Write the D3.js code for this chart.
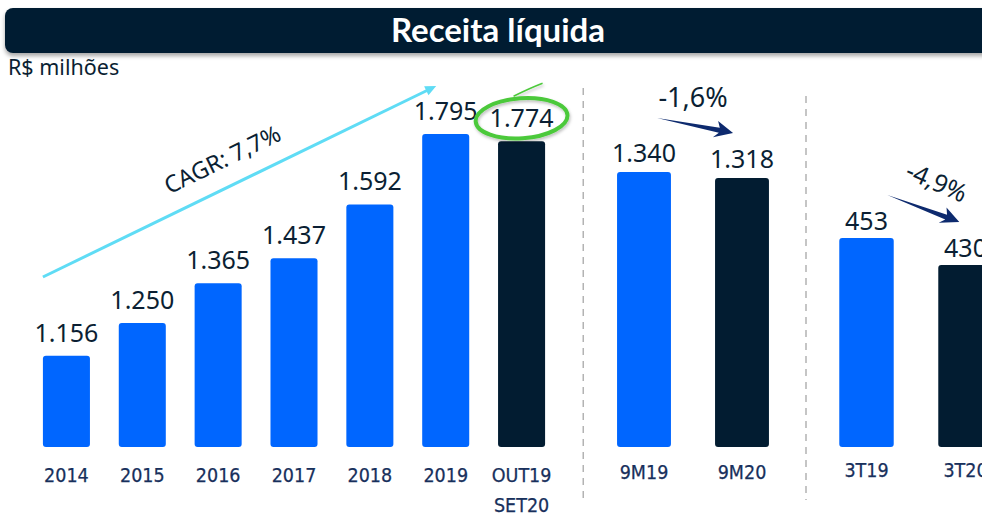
<!DOCTYPE html>
<html>
<head>
<meta charset="utf-8">
<script src="https://cdn.jsdelivr.net/npm/d3@7"></script>
<style>
  body { margin: 0; background: #fff; }
  svg { display: block; }
  .val { font-family: 'Noto Sans', 'Open Sans', sans-serif; font-size: 25px; fill: #0b1f33; }
  .cat { font-family: 'DejaVu Sans Condensed', 'DejaVu Sans', sans-serif; font-stretch: condensed; font-size: 19.5px; fill: #18305c; stroke: #18305c; stroke-width: 0.25px; }
  .note { font-family: 'Noto Sans', sans-serif; fill: #0b1f33; }
</style>
</head>
<body>
<div id="chart"></div>
<script>
// Receita líquida - R$ milhões

// Annual series (last bar is the 12 months OUT19-SET20)
let anualCats = ['2014', '2015', '2016', '2017', '2018', '2019', 'OUT19']
let anualValues = [1156, 1250, 1365, 1437, 1592, 1795, 1774]
let anualSubLabels = { 'OUT19': 'SET20' }

// Nine months
let noveMesesCats = ['9M19', '9M20']
let noveMesesValues = [1340, 1318]

// Quarter
let triCats = ['3T19', '3T20']
let triValues = [453, 430]

let titleText = 'Receita líquida'
let unitText = 'R$ milhões'
let cagrText = 'CAGR: 7,7%'
let varNoveMeses = '-1,6%'
let varTri = '-4,9%'

let width = 982,
    height = 517,
    baseY = 447

let blue = '#0066ff',
    navy = '#021c31'

let fmt = d3.formatLocale({
  decimal: ',', thousands: '.', grouping: [3], currency: ['R$', '']
}).format(',d')

let svg = d3.select('#chart').append('svg')
    .attr('width', width)
    .attr('height', height)

let defs = svg.append('defs')
defs.append('filter')
  .attr('id', 'shadow')
  .attr('x', '-5%').attr('y', '-20%').attr('width', '110%').attr('height', '160%')
  .append('feDropShadow')
  .attr('dx', 0).attr('dy', 3).attr('stdDeviation', 2)
  .attr('flood-color', '#000').attr('flood-opacity', 0.35)
defs.append('filter')
  .attr('id', 'glow')
  .append('feDropShadow')
  .attr('dx', 1).attr('dy', 2).attr('stdDeviation', 1.5)
  .attr('flood-color', '#000').attr('flood-opacity', 0.25)

// Title bar
svg.append('rect')
  .attr('x', 5).attr('y', 8)
  .attr('width', 1010).attr('height', 45)
  .attr('rx', 8)
  .attr('fill', navy)
  .attr('filter', 'url(#shadow)')

svg.append('text')
  .attr('x', 498).attr('y', 42)
  .attr('text-anchor', 'middle')
  .style('font-family', "'Lato', 'Noto Sans', sans-serif")
  .style('font-weight', 700)
  .style('font-size', '33px')
  .style('fill', '#fff')
  .text(titleText)

svg.append('text')
  .attr('class', 'note')
  .attr('x', 8).attr('y', 75)
  .style('font-size', '21.5px')
  .text(unitText)

// Draw one group of bars with its own scales
function drawGroup(cats, values, xRange, yDomain, yTop, padInner, labelGap, tickPad) {
  let x = d3.scaleBand()
      .domain(cats)
      .range(xRange)
      .paddingInner(padInner)
      .paddingOuter(padInner / 2)
  let y = d3.scaleLinear()
      .domain(yDomain)
      .range([baseY, yTop])

  let g = svg.append('g')
  let data = cats.map((c, i) => ({ cat: c, value: values[i], last: i === cats.length - 1 }))

  g.selectAll('rect.bar')
    .data(data)
    .join('rect')
    .attr('class', 'bar')
    .attr('x', d => x(d.cat))
    .attr('y', d => y(d.value))
    .attr('width', x.bandwidth())
    .attr('height', d => baseY - y(d.value))
    .attr('rx', 3)
    .attr('fill', d => d.last ? navy : blue)

  g.selectAll('text.val')
    .data(data)
    .join('text')
    .attr('class', 'val')
    .attr('x', d => x(d.cat) + x.bandwidth() / 2)
    .attr('y', d => y(d.value) - labelGap)
    .attr('text-anchor', 'middle')
    .text(d => fmt(d.value))

  let axis = g.append('g')
    .attr('transform', 'translate(0,' + baseY + ')')
    .call(d3.axisBottom(x).tickSize(0).tickPadding(tickPad))
  axis.select('.domain').remove()
  axis.selectAll('text').attr('class', 'cat').attr('fill', null)

  return { x: x, y: y, axis: axis }
}

let g1 = drawGroup(anualCats, anualValues, [28.5, 559.5], [893, 1795], 134, 0.38, 14, 21)
g1.axis.selectAll('.tick')
  .filter(d => anualSubLabels[d])
  .append('text')
  .attr('class', 'cat')
  .attr('y', 21 + 30)
  .attr('dy', '0.71em')
  .attr('text-anchor', 'middle')
  .text(d => anualSubLabels[d])

let g2 = drawGroup(noveMesesCats, noveMesesValues, [595, 791], [330, 1340], 172, 0.45, 10, 18)
let g3 = drawGroup(triCats, triValues, [817, 1015], [275, 453], 238, 0.45, 8, 16)

// Dashed separators
let sepX = [
  (g1.x.range()[1] + g2.x.range()[0]) / 2 + 6,
  (g2.x.range()[1] + g3.x.range()[0]) / 2 + 2
]
svg.selectAll('line.sep')
  .data(sepX)
  .join('line')
  .attr('class', 'sep')
  .attr('x1', d => d).attr('x2', d => d)
  .attr('y1', (d, i) => i === 0 ? 88 : 96)
  .attr('y2', 500)
  .attr('stroke', '#b3b3b3')
  .attr('stroke-width', 1.5)
  .attr('stroke-dasharray', '7,6')

// CAGR arrow
let cagrStart = [g1.x('2014'), 277],
    cagrEnd = [g1.x('2019') + 14, 86]
let ang = Math.atan2(cagrEnd[1] - cagrStart[1], cagrEnd[0] - cagrStart[0])
svg.append('line')
  .attr('x1', cagrStart[0]).attr('y1', cagrStart[1])
  .attr('x2', cagrEnd[0] - 8 * Math.cos(ang)).attr('y2', cagrEnd[1] - 8 * Math.sin(ang))
  .attr('stroke', '#5fdcf5')
  .attr('stroke-width', 3)
svg.append('path')
  .attr('d', 'M0,0 L-11,-5 L-11,5 Z')
  .attr('transform', 'translate(' + cagrEnd + ') rotate(' + ang * 180 / Math.PI + ')')
  .attr('fill', '#5fdcf5')
svg.append('text')
  .attr('class', 'note')
  .attr('transform', 'translate(226,167) rotate(' + ang * 180 / Math.PI + ')')
  .attr('text-anchor', 'middle')
  .style('font-size', '23.5px')
  .text(cagrText)

// Green highlight around last annual value
let hx = g1.x('OUT19') + g1.x.bandwidth() / 2,
    hy = g1.y(1774) - 14 - 9
let hl = svg.append('g').attr('filter', 'url(#glow)')
hl.append('ellipse')
  .attr('cx', hx).attr('cy', hy)
  .attr('rx', 46).attr('ry', 20)
  .attr('transform', 'rotate(-4,' + hx + ',' + hy + ')')
  .attr('fill', 'none')
  .attr('stroke', '#4cc93a')
  .attr('stroke-width', 4)
hl.append('path')
  .attr('d', 'M' + (hx - 8) + ',' + (hy - 22) + ' Q' + (hx + 8) + ',' + (hy - 30) + ' ' + (hx + 21) + ',' + (hy - 35))
  .attr('fill', 'none')
  .attr('stroke', '#4cc93a')
  .attr('stroke-width', 1.5)

// Tapered variation arrows
function varArrow(start, end, label, labelPos, labelRot, size) {
  let dx = end[0] - start[0], dy = end[1] - start[1]
  let len = Math.sqrt(dx * dx + dy * dy)
  let a = Math.atan2(dy, dx) * 180 / Math.PI
  let g = svg.append('g')
    .attr('transform', 'translate(' + start + ') rotate(' + a + ')')
  g.append('path')
    .attr('d', 'M0,0 L' + (len - 14) + ',-2.5 L' + (len - 17) + ',-9 L' + len + ',0 L' + (len - 19) + ',8 L' + (len - 14) + ',2.5 Z')
    .attr('fill', '#0d2a6e')
  svg.append('text')
    .attr('class', 'note')
    .attr('transform', 'translate(' + labelPos + ') rotate(' + labelRot + ')')
    .attr('text-anchor', 'middle')
    .style('font-size', size + 'px')
    .text(label)
}

varArrow([g2.x('9M19') + 40, 118], [g2.x('9M20') + 18, 133], varNoveMeses, [693, 107], 0, 27)
varArrow([g3.x('3T19') + 48, 195], [g3.x('3T20') + 21, 222], varTri, [933, 190], 24, 25)
</script>
</body>
</html>
